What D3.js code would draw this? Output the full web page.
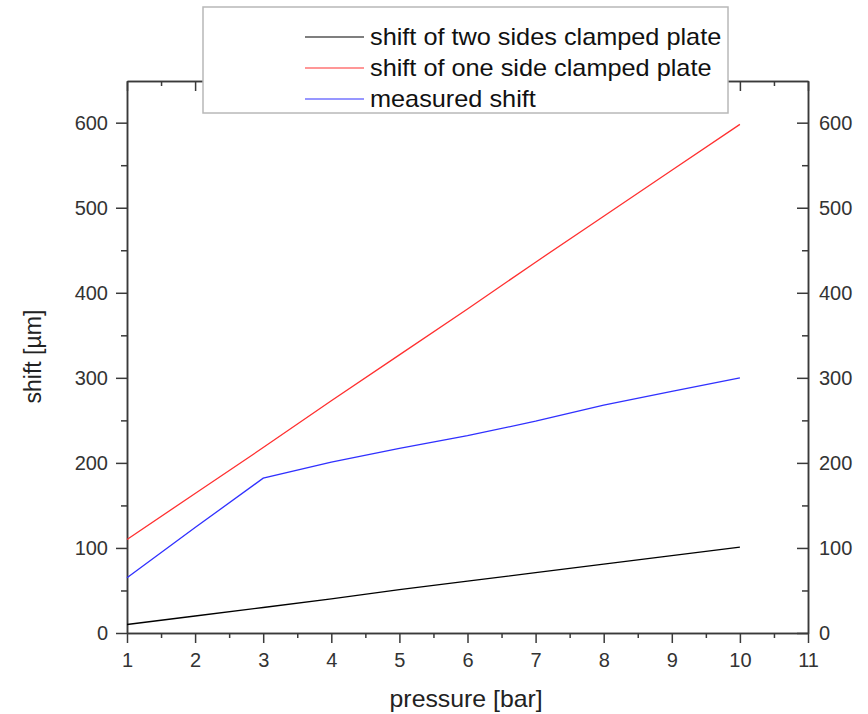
<!DOCTYPE html>
<html>
<head>
<meta charset="utf-8">
<script src="https://cdn.jsdelivr.net/npm/d3@7"></script>
<style>
  body { margin: 0; background: #fff; }
  svg text { font-family: "Liberation Sans", Arial, sans-serif; }
</style>
</head>
<body>
<div id="chart"></div>
<script>
// Data
const pressure = [1, 2, 3, 4, 5, 6, 7, 8, 9, 10];
const twoSides = [10, 20, 30, 40, 51, 61, 71, 81, 91, 101];
const oneSide = [110, 164, 218, 273, 327, 381, 436, 490, 544, 598];
const measured = [65, 124, 182, 201, 217, 232, 249, 268, 284, 300];
const seriesNames = ["shift of two sides clamped plate", "shift of one side clamped plate", "measured shift"];
const seriesColors = ["#000000", "#ff3030", "#3030ff"];
const xTicks = [1, 2, 3, 4, 5, 6, 7, 8, 9, 10, 11];
const yTicks = [0, 100, 200, 300, 400, 500, 600];

const W = 868, H = 714;
const margin = { top: 81, right: 60, bottom: 81, left: 127 };
const width = W - margin.left - margin.right;
const height = H - margin.top - margin.bottom;

const svg = d3.select("#chart").append("svg")
  .attr("width", W)
  .attr("height", H);

const g = svg.append("g")
  .attr("transform", `translate(${margin.left},${margin.top})`);

const x = d3.scaleLinear().domain([1, 11]).range([0, width]);
const y = d3.scaleLinear().domain([0, 649]).range([height, 0]);

const xMinor = d3.range(1.5, 11, 1);
const yMinor = d3.range(50, 650, 100);

function styleAxis(sel) {
  sel.selectAll("path, line").attr("stroke", "#3a3a3a").attr("stroke-width", 1.5);
  sel.selectAll("text").attr("fill", "#333").style("font-size", "20px");
}

// minor ticks first, so majors draw on top
g.append("g").attr("transform", `translate(0,${height})`)
  .call(d3.axisBottom(x).tickValues(xMinor).tickSize(5).tickSizeOuter(0).tickFormat(""))
  .call(styleAxis);
g.append("g")
  .call(d3.axisTop(x).tickValues(xMinor).tickSize(-5).tickSizeOuter(0).tickFormat(""))
  .call(styleAxis);
g.append("g")
  .call(d3.axisLeft(y).tickValues(yMinor).tickSize(6).tickSizeOuter(0).tickFormat(""))
  .call(styleAxis);
g.append("g").attr("transform", `translate(${width},0)`)
  .call(d3.axisRight(y).tickValues(yMinor).tickSize(-6).tickSizeOuter(0).tickFormat(""))
  .call(styleAxis);

// major axes
g.append("g").attr("transform", `translate(0,${height})`)
  .call(d3.axisBottom(x).tickValues(xTicks).tickSize(10).tickPadding(10).tickSizeOuter(0))
  .call(styleAxis);
g.append("g")
  .call(d3.axisTop(x).tickValues(xTicks).tickSize(-10).tickSizeOuter(0).tickFormat(""))
  .call(styleAxis);
g.append("g")
  .call(d3.axisLeft(y).tickValues(yTicks).tickSize(11).tickPadding(8).tickSizeOuter(0))
  .call(styleAxis);
g.append("g").attr("transform", `translate(${width},0)`)
  .call(d3.axisRight(y).tickValues(yTicks).tickSize(-11).tickPadding(11).tickSizeOuter(0))
  .call(styleAxis);

// lines
const line = d3.line().x(d => x(d[0])).y(d => y(d[1]));
[twoSides, oneSide, measured].forEach((vals, i) => {
  g.append("path")
    .datum(pressure.map((p, j) => [p, vals[j]]))
    .attr("fill", "none")
    .attr("stroke", seriesColors[i])
    .attr("stroke-width", 1.3)
    .attr("d", line);
});

// axis titles
svg.append("text")
  .attr("transform", `translate(${margin.left + x(5.98)},707) scale(1.08,1)`)
  .attr("text-anchor", "middle")
  .attr("fill", "#222")
  .style("font-size", "23px")
  .text("pressure [bar]");

svg.append("text")
  .attr("transform", `translate(41,${margin.top + y(325)}) rotate(-90) scale(1,1.08)`)
  .attr("text-anchor", "middle")
  .attr("fill", "#222")
  .style("font-size", "23px")
  .text("shift [µm]");

// legend
const legend = svg.append("g");
legend.append("rect")
  .attr("x", 203).attr("y", 7)
  .attr("width", 525).attr("height", 106)
  .attr("fill", "#fff")
  .attr("stroke", "#b8b8b8")
  .attr("stroke-width", 1.5);

const rowY = [37, 68, 99];
seriesNames.forEach((name, i) => {
  legend.append("line")
    .attr("x1", 305).attr("x2", 364)
    .attr("y1", rowY[i]).attr("y2", rowY[i])
    .attr("stroke", seriesColors[i])
    .attr("stroke-width", 1.2);
  legend.append("text")
    .attr("transform", `translate(370,${rowY[i]}) scale(1.1,1)`)
    .attr("dy", "0.35em")
    .attr("fill", "#111")
    .style("font-size", "23px")
    .text(name);
});
</script>
</body>
</html>
